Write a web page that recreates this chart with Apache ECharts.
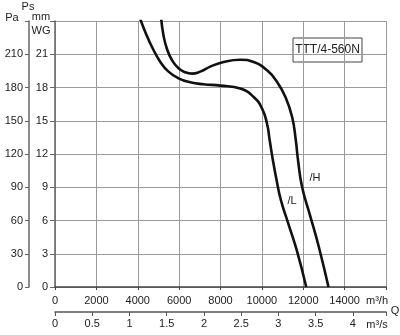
<!DOCTYPE html>
<html><head><meta charset="utf-8">
<script src="https://cdn.jsdelivr.net/npm/echarts@6/dist/echarts.min.js"></script>
<style>html,body{margin:0;padding:0;background:#fff}#c{width:400px;height:335px}</style>
</head><body><div id="c"></div>
<script>
// Flow (m3/h) vs static pressure (Pa)
const curveH = [[5133,242],[5245,227],[5409,215],[5651,204.8],[5971,197.3],[6295,193.7],[6620,192.5],[7022,194.3],[7506,198.8],[8150,203],[8959,205.1],[9603,203],[10252,195.5],[10736,185],[11138,171.5],[11462,153.4],[11637,132.9],[11748,114.4],[11947,90],[12349,63.3],[12751,36.3],[13220,0]];
const curveL = [[4116,242],[4358,230.4],[4683,216.8],[5085,203.3],[5487,194.3],[5971,188.3],[6538,184.7],[7182,182.9],[7990,181.7],[8959,179],[9603,171.5],[10010,161],[10252,147.1],[10378,132.4],[10533,114.4],[10712,96.4],[10920,78.4],[11269,57.7],[11685,33.3],[12145,0]];
const qTicksH = [0,2000,4000,6000,8000,10000,12000,14000];
const qTicksS = [0,0.5,1,1.5,2,2.5,3,3.5,4];
const paTicks = [0,30,60,90,120,150,180,210];
const mmTicks = [0,3,6,9,12,15,18,21];
const model = 'TTT/4-560N';
const curveNames = ['/H','/L'];

const font = 'Liberation Sans, Arial, sans-serif';
const txt = '#222';
const chart = echarts.init(document.getElementById('c'));
const lbl = (arr) => (v) => arr.indexOf(+v) >= 0 ? String(v) : '';
chart.setOption({
  animation:false,
  grid:{left:55,right:14,top:21,bottom:48},
  xAxis:[
    {type:'value',min:0,max:16000,interval:2000,position:'bottom',
     axisLine:{show:true,onZero:false,lineStyle:{color:'#444',width:1.5}},
     axisTick:{show:true,length:3,lineStyle:{color:'#444'}},
     axisLabel:{formatter:lbl(qTicksH),color:txt,fontSize:11,fontFamily:font,margin:8},
     splitLine:{show:true,lineStyle:{color:'#9a9a9a',width:1}}},
    {type:'value',min:0,max:16000/3600,interval:0.5,position:'bottom',offset:25,
     axisLine:{show:true,onZero:false,lineStyle:{color:'#555',width:1.5}},
     axisTick:{show:true,length:4,lineStyle:{color:'#555'}},
     axisLabel:{formatter:lbl(qTicksS),color:txt,fontSize:11,fontFamily:font,margin:6},
     splitLine:{show:false}}
  ],
  yAxis:[
    {type:'value',min:0,max:24,interval:3,position:'left',
     axisLine:{show:true,onZero:false,lineStyle:{color:'#666',width:1.5}},
     axisTick:{show:true,length:5,lineStyle:{color:'#666'}},
     axisLabel:{formatter:lbl(mmTicks),color:txt,fontSize:11,fontFamily:font,margin:7},
     splitLine:{show:false}},
    {type:'value',min:0,max:240,interval:30,position:'left',offset:26,
     axisLine:{show:true,onZero:false,lineStyle:{color:'#666',width:1.5}},
     axisTick:{show:true,length:4,lineStyle:{color:'#666'}},
     axisLabel:{formatter:lbl(paTicks),color:txt,fontSize:11,fontFamily:font,margin:6},
     splitLine:{show:true,lineStyle:{color:'#9a9a9a',width:1}}}
  ],
  series:[
    {type:'line',xAxisIndex:0,yAxisIndex:1,data:curveH,smooth:0.5,showSymbol:false,
     lineStyle:{color:'#111',width:2.6}},
    {type:'line',xAxisIndex:0,yAxisIndex:1,data:curveL,smooth:0.5,showSymbol:false,
     lineStyle:{color:'#111',width:2.6}}
  ],
  graphic:[
    {type:'rect',shape:{x:293,y:38,width:69,height:24},style:{fill:'#fff',stroke:'#444',lineWidth:1}},
    {type:'text',x:327.5,y:50,style:{text:model,font:'12px '+font,fill:txt,align:'center',verticalAlign:'middle'}},
    {type:'text',x:315,y:178,style:{text:curveNames[0],font:'11px '+font,fill:txt,align:'center',verticalAlign:'middle'}},
    {type:'text',x:292,y:201,style:{text:curveNames[1],font:'11px '+font,fill:txt,align:'center',verticalAlign:'middle'}},
    {type:'text',x:12,y:18,style:{text:'Pa',font:'11px '+font,fill:txt,align:'center',verticalAlign:'middle'}},
    {type:'text',x:28,y:7,style:{text:'Ps',font:'11px '+font,fill:txt,align:'center',verticalAlign:'middle'}},
    {type:'text',x:41,y:17,style:{text:'mm',font:'11px '+font,fill:txt,align:'center',verticalAlign:'middle'}},
    {type:'text',x:41,y:31,style:{text:'WG',font:'11px '+font,fill:txt,align:'center',verticalAlign:'middle'}},
    {type:'text',x:377,y:301,style:{text:'m³/h',font:'11px '+font,fill:txt,align:'center',verticalAlign:'middle'}},
    {type:'text',x:395,y:311,style:{text:'Q',font:'11px '+font,fill:txt,align:'center',verticalAlign:'middle'}},
    {type:'text',x:377,y:325,style:{text:'m³/s',font:'11px '+font,fill:txt,align:'center',verticalAlign:'middle'}}
  ]
});
</script></body></html>
